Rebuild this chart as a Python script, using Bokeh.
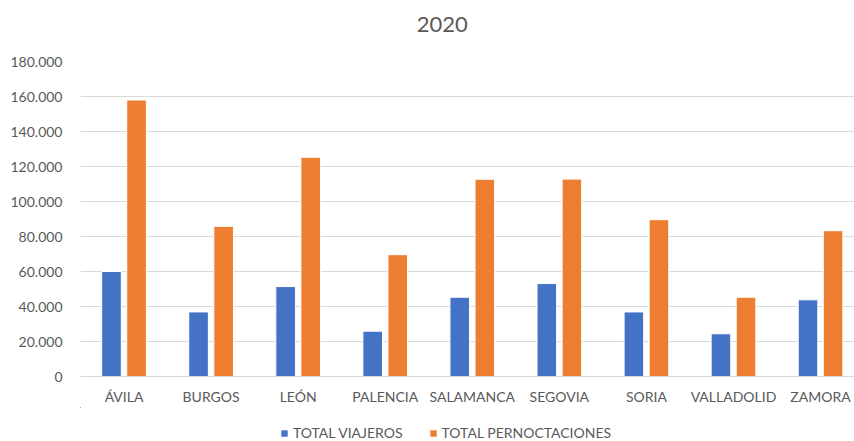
from bokeh.plotting import figure
from bokeh.layouts import column
from bokeh.models import ColumnDataSource, FixedTicker, Legend, LegendItem, Label, Range1d
from bokeh.embed import file_html
from bokeh.resources import INLINE

titulo = "2020"
provincias = ["ÁVILA", "BURGOS", "LEÓN", "PALENCIA", "SALAMANCA", "SEGOVIA", "SORIA", "VALLADOLID", "ZAMORA"]
viajeros = [60000, 36900, 51400, 25900, 45300, 53100, 36900, 24400, 43800]
pernoctaciones = [158000, 85800, 125300, 69600, 112700, 112800, 89600, 45300, 83300]
y_ticks = [0, 20000, 40000, 60000, 80000, 100000, 120000, 140000, 160000, 180000]
y_tick_labels = ["0", "20.000", "40.000", "60.000", "80.000", "100.000", "120.000", "140.000", "160.000", "180.000"]
series_names = ["TOTAL VIAJEROS", "TOTAL PERNOCTACIONES"]
series_colors = ["#4472C4", "#ED7D31"]

pos = list(range(1, len(provincias) + 1))
src = ColumnDataSource(dict(
    x_v=[p - 0.144 for p in pos],
    x_p=[p + 0.144 for p in pos],
    v=viajeros, pn=pernoctaciones,
))

FONT = "Lato"
GREY = "#595959"

p = figure(width=854, height=356, output_backend="svg", toolbar_location=None,
           x_range=(0.5, 9.39), y_range=(0, 180000),
           min_border_left=80, min_border_right=0, min_border_top=10, min_border_bottom=0)
p.outline_line_color = None
p.background_fill_color = "white"
p.border_fill_color = "white"

p.vbar(x="x_v", top="v", width=0.225, source=src, fill_color=series_colors[0], line_color="white", line_width=1)
p.vbar(x="x_p", top="pn", width=0.225, source=src, fill_color=series_colors[1], line_color="white", line_width=1)

p.yaxis.ticker = FixedTicker(ticks=y_ticks)
p.yaxis.major_label_overrides = {t: l for t, l in zip(y_ticks, y_tick_labels)}
p.yaxis.axis_line_color = None
p.yaxis.major_tick_line_color = None
p.yaxis.minor_tick_line_color = None
p.yaxis.major_label_text_font = FONT
p.yaxis.major_label_text_font_size = "14px"
p.yaxis.major_label_text_color = GREY
p.yaxis.major_label_standoff = 12

p.xaxis.ticker = FixedTicker(ticks=pos)
p.xaxis.major_label_overrides = {i: n for i, n in zip(pos, provincias)}
p.xaxis.axis_line_color = "#d9d9d9"
p.xaxis.major_tick_line_color = None
p.xaxis.minor_tick_line_color = None
p.xaxis.major_label_text_font = FONT
p.xaxis.major_label_text_font_size = "14px"
p.xaxis.major_label_text_color = GREY
p.xaxis.major_label_standoff = 5

p.xgrid.grid_line_color = None
p.ygrid.ticker = FixedTicker(ticks=y_ticks)
p.ygrid.grid_line_color = "#d9d9d9"
p.ygrid.grid_line_width = 1

# title strip above the chart
tt = figure(width=854, height=51, output_backend="svg", toolbar_location=None,
            x_range=p.x_range, y_range=Range1d(0, 51),
            x_axis_location=None, y_axis_location=None,
            min_border=0, min_border_left=0, min_border_right=0, min_border_top=0, min_border_bottom=0)
tt.grid.visible = False
tt.outline_line_color = None
tt.border_fill_color = "white"
tt.background_fill_color = "white"
tt.add_layout(Label(x=4.655, y=27, text=titulo, text_align="center", text_baseline="middle",
                    text_font=FONT, text_font_size="22px", text_color=GREY))

# legend strip below the chart (proxy renderers use the same data, drawn off-range)
lg = figure(width=854, height=34, output_backend="svg", toolbar_location=None,
            x_range=Range1d(100, 101), y_range=Range1d(-1e7, -1e7 + 1),
            x_axis_location=None, y_axis_location=None,
            min_border=0, min_border_left=0, min_border_right=0, min_border_top=0, min_border_bottom=0)
lg.grid.visible = False
lg.outline_line_color = None
lg.border_fill_color = "white"
lg.background_fill_color = "white"
items = []
for name, col, key, val in zip(series_names, series_colors, ["x_v", "x_p"], ["v", "pn"]):
    r = lg.vbar(x=key, top=val, bottom=val, width=0.225, source=src,
                fill_color=col, line_color=None)
    items.append(LegendItem(label=name, renderers=[r]))
legend = Legend(items=items, orientation="horizontal", location=(200, 0),
                glyph_width=8, glyph_height=8, label_standoff=5, spacing=26,
                label_text_font=FONT, label_text_font_size="14px", label_text_color=GREY,
                border_line_color=None, background_fill_alpha=0, padding=0, margin=0)
lg.add_layout(legend, "center")

layout = column(tt, p, lg, spacing=0)
open("out.html", "w").write(file_html(layout, INLINE))
